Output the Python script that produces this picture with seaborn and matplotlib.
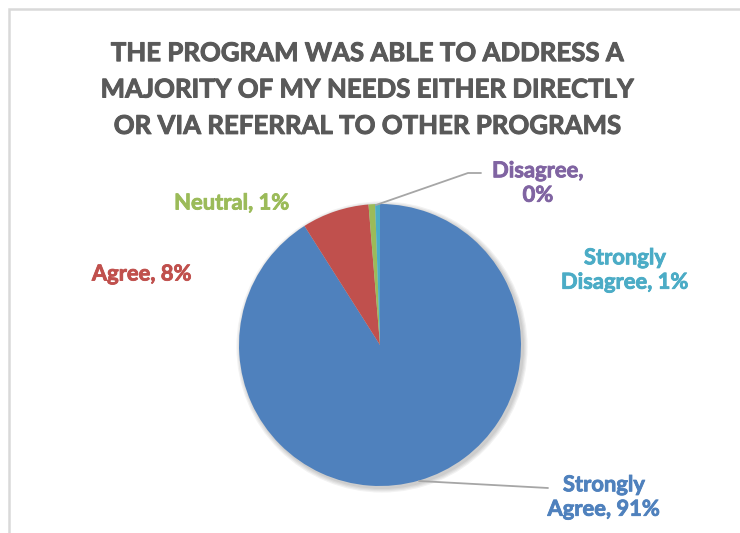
import matplotlib
matplotlib.use("Agg")
import matplotlib.pyplot as plt
import matplotlib.patheffects as pe
import seaborn as sns
from matplotlib.patches import Circle

# ---- data ----
categories = ["Strongly Agree", "Agree", "Neutral", "Disagree", "Strongly Disagree"]
values = [91.0, 7.7, 0.75, 0.0, 0.55]
pct_labels = ["91%", "8%", "1%", "0%", "1%"]
colors = ["#4F81BD", "#C0504D", "#9BBB59", "#8064A2", "#4BACC6"]
title = "THE PROGRAM WAS ABLE TO ADDRESS A\nMAJORITY OF MY NEEDS EITHER DIRECTLY\nOR VIA REFERRAL TO OTHER PROGRAMS"

sns.set_theme(style="white")
plt.rcParams['font.family'] = ['Lato', 'DejaVu Sans']

W, H = 740, 533
fig = plt.figure(figsize=(W / 100, H / 100), dpi=100)
ax = fig.add_axes([0, 0, 1, 1])

def Y(y):
    return H - y

cx, cy, r = 380, 345, 141

# soft shadow
for i in range(4):
    ax.add_patch(Circle((cx + 2, Y(cy) - 2), r + 1 + i * 1.2, color="black",
                        alpha=0.05, lw=0, zorder=1))

ax.pie(values, colors=colors, startangle=90, counterclock=False,
       center=(cx, Y(cy)), radius=r, frame=True,
       wedgeprops=dict(linewidth=0, zorder=2))
ax.set_xlim(0, W)
ax.set_ylim(0, H)
ax.axis("off")
ax.set_aspect("auto")

# chart border (top and left visible)
ax.plot([8.5, 8.5, W + 5], [Y(H + 5), Y(9), Y(9)], color="#D9D9D9", lw=1.8,
        solid_joinstyle="miter", zorder=0)

# title
ax.text(368, Y(89.5), title, ha="center", va="center", fontsize=18.6,
        fontweight="bold", color="#595959", linespacing=1.62,
        path_effects=[pe.withStroke(linewidth=0.7, foreground="#595959")])

# labels
label_pos = {
    "Strongly Agree": (604, 497),
    "Agree": (142, 274),
    "Neutral": (232, 203),
    "Disagree": (538, 183),
    "Strongly Disagree": (625, 270),
}
label_text = {
    "Strongly Agree": "Strongly\nAgree, {}",
    "Agree": "Agree, {}",
    "Neutral": "Neutral, {}",
    "Disagree": "Disagree,\n{}",
    "Strongly Disagree": "Strongly\nDisagree, {}",
}
for cat, pct, col in zip(categories, pct_labels, colors):
    x, y = label_pos[cat]
    ax.text(x, Y(y), label_text[cat].format(pct), ha="center", va="center",
            fontsize=15.8, fontweight="bold", color=col, linespacing=1.2,
            path_effects=[pe.withStroke(linewidth=0.6, foreground=col)])

# leader lines
lc = "#A6A6A6"
ax.plot([376, 468, 481], [Y(205), Y(173), Y(173)], color=lc, lw=1.3, zorder=3)
ax.plot([419, 548], [Y(481), Y(488)], color=lc, lw=1.3, zorder=3)

fig.savefig("out.png", dpi=100)
